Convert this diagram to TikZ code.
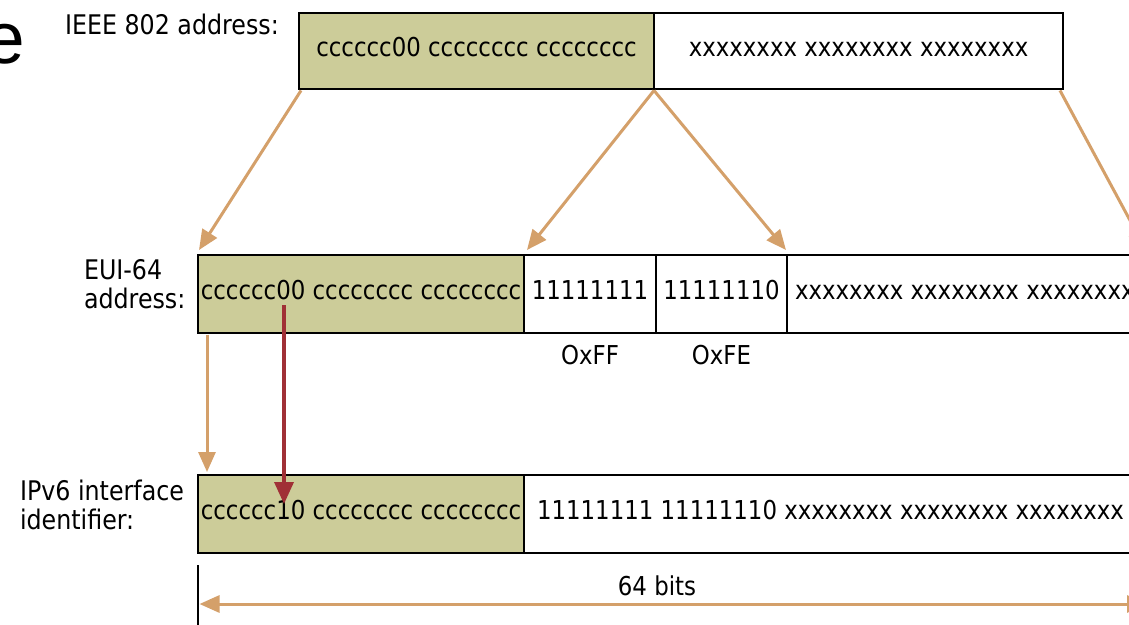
\documentclass[tikz,border=0pt]{standalone}
\usepackage{fontspec}
\setmainfont{DejaVu Sans}[FakeStretch=0.88]
\newfontfamily\slidefont{Liberation Sans}
\usetikzlibrary{arrows.meta}
\definecolor{fieldgreen}{RGB}{204,204,153}
\definecolor{tanc}{RGB}{212,160,106}
\definecolor{redc}{RGB}{160,48,54}
\tikzset{
  field/.style={draw=black, line width=2pt, inner sep=0pt, outer sep=0pt,
    font=\fontsize{26}{29}\selectfont},
  grn/.style={field, fill=fieldgreen},
  wht/.style={field, fill=white},
  txt/.style={font=\fontsize{26}{29.5}\selectfont, inner sep=0pt, outer sep=0pt},
  lbl/.style={font=\fontsize{27}{29.5}\selectfont, inner sep=0pt, outer sep=0pt},
  tanarr/.style={draw=tanc, line width=3pt, -{Triangle[length=20pt,width=17pt]}},
  tandbl/.style={draw=tanc, line width=3pt, {Triangle[length=20pt,width=17pt]}-{Triangle[length=20pt,width=17pt]}},
  redarr/.style={draw=redc, line width=3.5pt, -{Triangle[length=22pt,width=19pt]}},
}
\begin{document}
\begin{tikzpicture}[x=1pt,y=-1pt]
\useasboundingbox (0,0) rectangle (1129,624);
\clip (0,0) rectangle (1129,624);
% slide title fragment
\node[font=\fontsize{73}{80}\selectfont\slidefont, anchor=base west, inner sep=0pt] (ee) at (-16,63) {e};
% labels
\node[lbl, anchor=west] (lieee) at (65,24) {IEEE 802 address:};
\node[lbl, anchor=west, align=left] (leui) at (84,284) {EUI-64\\address:};
\node[lbl, anchor=west, align=left] (lipv) at (20,505) {IPv6 interface\\identifier:};
% IEEE 802 address
\node[grn, minimum width=355pt, minimum height=76pt] (ieeeL) at (476.5,51) {\strut cccccc00 cccccccc cccccccc};
\node[wht, minimum width=409pt, minimum height=76pt] (ieeeR) at (858.5,51) {\strut xxxxxxxx xxxxxxxx xxxxxxxx};
% EUI-64 address
\node[grn, minimum width=326pt, minimum height=78pt] (euiL) at (361,294) {\strut cccccc00 cccccccc cccccccc};
\node[wht, minimum width=132pt, minimum height=78pt] (euiA) at (590,294) {\strut 11111111};
\node[wht, minimum width=131pt, minimum height=78pt] (euiB) at (721.5,294) {\strut 11111110};
\node[wht, minimum width=361pt, minimum height=78pt] (euiR) at (967.5,294) {};
\node[txt, anchor=west] (euiRt) at (795,294) {\strut xxxxxxxx xxxxxxxx xxxxxxxx};
\node[txt] (ff) at ([yshift=-22pt]euiA.south) {OxFF};
\node[txt] (fe) at ([yshift=-22pt]euiB.south) {OxFE};
% IPv6 interface identifier
\node[grn, minimum width=326pt, minimum height=78pt] (ipL) at (361,514) {\strut cccccc10 cccccccc cccccccc};
\node[wht, minimum width=624pt, minimum height=78pt] (ipR) at (836,514) {};
\node[txt, anchor=west] (ipRt) at (537,514) {\strut 11111111 11111110 xxxxxxxx xxxxxxxx xxxxxxxx};
% mapping arrows
\draw[tanarr] ([xshift=2pt,yshift=-1.5pt]ieeeL.south west) -- ([xshift=1pt,yshift=5pt]euiL.north west);
\draw[tanarr] ([yshift=-1.5pt]ieeeL.south east) -- ([xshift=3pt,yshift=5pt]euiA.north west);
\draw[tanarr] ([yshift=-1.5pt]ieeeL.south east) -- ([xshift=-1pt,yshift=5pt]euiB.north east);
\draw[tanarr] ([xshift=-3pt,yshift=-1.5pt]ieeeR.south east) -- ([xshift=-2pt,yshift=5pt]euiR.north east);
\draw[tanarr] ([xshift=9pt,yshift=-1.5pt]euiL.south west) -- ([xshift=9pt,yshift=3pt]ipL.north west);
% bit flip arrow
\coordinate (rs) at (284,305);
\coordinate (re) at (284,504);
\draw[redarr] (rs) -- (re);
% 64 bits dimension
\coordinate (vb) at ([yshift=-12pt]ipL.south west);
\coordinate (vbe) at ([yshift=-80pt]ipL.south west);
\draw[black, line width=2pt] (vb) -- (vbe);
\draw[tandbl] ([xshift=1.5pt,yshift=-51pt]ipL.south west) -- ([xshift=-1pt,yshift=-51pt]ipR.south east);
\node[txt] (bits) at (657,586) {64 bits};
\end{tikzpicture}
\end{document}
